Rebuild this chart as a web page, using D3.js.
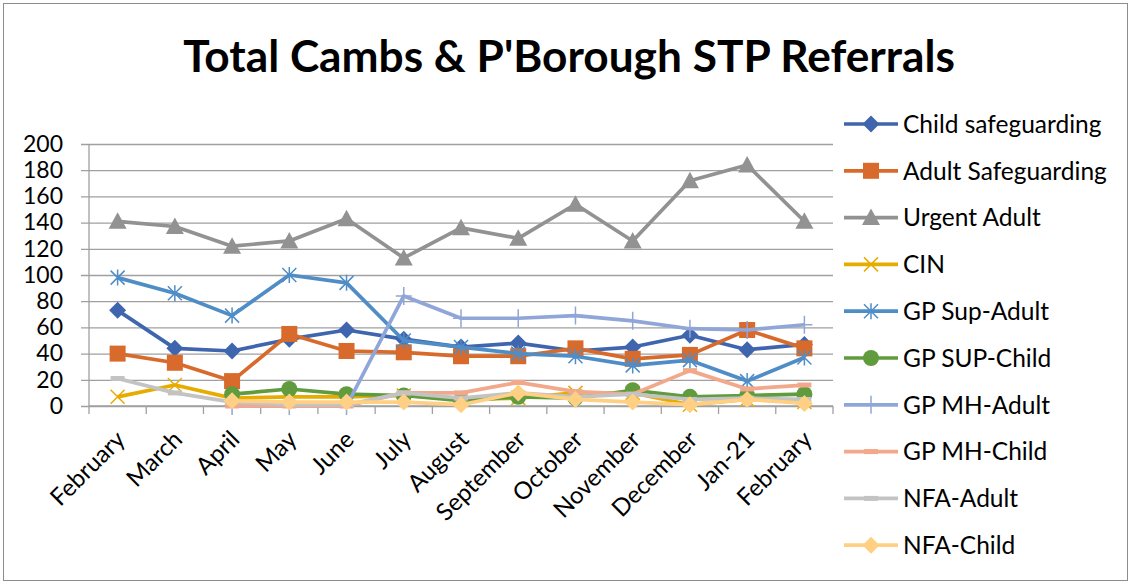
<!DOCTYPE html>
<html>
<head>
<meta charset="utf-8">
<script src="https://cdn.jsdelivr.net/npm/d3@7"></script>
<style>
  body { margin: 0; background: #fff; }
  text { font-family: Lato, "Open Sans", sans-serif; fill: #000; }
</style>
</head>
<body>
<svg id="chart" width="1131" height="584"></svg>
<script>
// data
var months = ["February", "March", "April", "May", "June", "July", "August",
  "September", "October", "November", "December", "Jan-21", "February"];
var childSafeguarding = [73, 44, 42, 51, 58, 51, 45, 48, 42, 45, 54, 43, 47];
var adultSafeguarding = [40, 33, 19, 55, 42, 41, 38, 38, 44, 36, 39, 58, 44];
var urgentAdult = [141, 137, 122, 126, 143, 113, 136, 128, 154, 126, 172, 184, 141];
var cin = [7, 16, 6, 7, 7, 8, 5, 6, 10, 10, 1, 5, 3];
var gpSupAdult = [98, 86, 69, 100, 94, 50, 45, 40, 38, 31, 35, 19, 37];
var gpSupChild = [null, null, 9, 13, 9, 8, 4, 7, 6, 12, 7, 8, 9];
var gpMhAdult = [null, null, 0, 0, 0, 84, 67, 67, 69, 65, 59, 58, 62];
var gpMhChild = [null, null, 0, 0, 0, 10, 10, 18, 11, 9, 27, 13, 16];
var nfaAdult = [21, 10, 3, 1, 1, 10, 6, 10, 7, 9, 5, 6, 5];
var nfaChild = [null, null, 4, 3, 3, 3, 1, 10, 5, 3, 1, 5, 2];
var yTicks = [0, 20, 40, 60, 80, 100, 120, 140, 160, 180, 200];

var series = [
  {name: "Child safeguarding", values: childSafeguarding, color: "#3F65AF", marker: "diamond"},
  {name: "Adult Safeguarding", values: adultSafeguarding, color: "#D86B2C", marker: "square"},
  {name: "Urgent Adult", values: urgentAdult, color: "#929292", marker: "triangle"},
  {name: "CIN", values: cin, color: "#E6AC00", marker: "x"},
  {name: "GP Sup-Adult", values: gpSupAdult, color: "#4F8DC6", marker: "star"},
  {name: "GP SUP-Child", values: gpSupChild, color: "#609B3E", marker: "circle"},
  {name: "GP MH-Adult", values: gpMhAdult, color: "#90A6D8", marker: "plus"},
  {name: "GP MH-Child", values: gpMhChild, color: "#F2A88A", marker: "dash"},
  {name: "NFA-Adult", values: nfaAdult, color: "#C3C3C3", marker: "dash"},
  {name: "NFA-Child", values: nfaChild, color: "#FFD083", marker: "diamond"}
];

var svg = d3.select("#chart");
var margin = {top: 144, left: 89, right: 298, bottom: 178};
var width = 1131, height = 584;
var axisColor = "#a0a0a0";

svg.append("rect")
  .attr("x", 3.5).attr("y", 3.5)
  .attr("width", width - 7).attr("height", height - 7)
  .attr("fill", "#fff").attr("stroke", "#8c8c8c").attr("stroke-width", 1);

var x = d3.scaleBand()
  .domain(d3.range(months.length))
  .range([margin.left, width - margin.right]);

var y = d3.scaleLinear()
  .domain([0, 200])
  .range([height - margin.bottom, margin.top]);

var plotW = width - margin.right - margin.left;

// gridlines (with small outside ticks)
svg.append("g")
  .attr("transform", "translate(" + margin.left + ",0)")
  .call(d3.axisLeft(y).tickValues(yTicks).tickSize(0).tickFormat(""))
  .call(g => g.select(".domain").remove())
  .call(g => g.selectAll("line").attr("x1", -8).attr("x2", plotW)
    .attr("stroke", axisColor).attr("stroke-width", 1.3));

// y axis line
svg.append("line")
  .attr("x1", margin.left).attr("x2", margin.left)
  .attr("y1", y(200)).attr("y2", y(0))
  .attr("stroke", axisColor).attr("stroke-width", 1.3);

// y labels
svg.append("g")
  .attr("transform", "translate(" + margin.left + ",0)")
  .call(d3.axisLeft(y).tickValues(yTicks).tickSize(0).tickPadding(26))
  .call(g => g.select(".domain").remove())
  .call(g => g.selectAll("text").attr("font-size", 23).style("fill", "#000"));

// x axis with ticks at the band edges
var x0 = y(0);
var xa = svg.append("g");
xa.append("line")
  .attr("x1", margin.left).attr("x2", width - margin.right)
  .attr("y1", x0).attr("y2", x0)
  .attr("stroke", axisColor).attr("stroke-width", 1.3);
xa.selectAll(".tk")
  .data(d3.range(months.length + 1))
  .enter().append("line")
  .attr("x1", d => margin.left + d * x.bandwidth())
  .attr("x2", d => margin.left + d * x.bandwidth())
  .attr("y1", x0).attr("y2", x0 + 8)
  .attr("stroke", axisColor).attr("stroke-width", 1.3);
xa.selectAll(".lbl")
  .data(months)
  .enter().append("text")
  .attr("text-anchor", "end")
  .attr("font-size", 24)
  .attr("transform", (d, i) => "translate(" + (x(i) + x.bandwidth() / 2 + 9) + "," + (x0 + 35) + ") rotate(-45)")
  .text(d => d);

var cx = i => x(i) + x.bandwidth() / 2;

function drawMarker(g, type, color) {
  if (type == "diamond") {
    g.append("path").attr("d", "M0,-8.5L8.5,0L0,8.5L-8.5,0Z").attr("fill", color);
  } else if (type == "square") {
    g.append("rect").attr("x", -8).attr("y", -8).attr("width", 16).attr("height", 16).attr("fill", color);
  } else if (type == "triangle") {
    g.append("path").attr("d", "M0,-9L9,7.5L-9,7.5Z").attr("fill", color);
  } else if (type == "circle") {
    g.append("circle").attr("r", 8).attr("fill", color);
  } else if (type == "x") {
    g.append("path").attr("d", "M-7,-7L7,7M-7,7L7,-7").attr("stroke", color).attr("stroke-width", 1.5);
  } else if (type == "star") {
    g.append("path").attr("d", "M-7,-7L7,7M-7,7L7,-7M0,-8L0,8").attr("stroke", color).attr("stroke-width", 1.5);
  } else if (type == "plus") {
    g.append("path").attr("d", "M0,-9L0,9M-8,0L8,0").attr("stroke", color).attr("stroke-width", 1.5);
  } else if (type == "dash") {
    g.append("path").attr("d", "M-7,0L7,0").attr("stroke", color).attr("stroke-width", 5);
  }
}

var line = d3.line()
  .defined(d => d != null)
  .x((d, i) => cx(i))
  .y(d => y(d));

series.forEach(function(s) {
  var g = svg.append("g");
  g.append("path")
    .datum(s.values)
    .attr("fill", "none")
    .attr("stroke", s.color)
    .attr("stroke-width", 3.7)
    .attr("stroke-linejoin", "round")
    .attr("d", line);
  s.values.forEach(function(v, i) {
    if (v == null) return;
    var m = g.append("g").attr("transform", "translate(" + cx(i) + "," + y(v) + ")");
    drawMarker(m, s.marker, s.color);
  });
});

// legend
var legend = svg.append("g");
series.forEach(function(s, i) {
  var ly = 124 + i * 46.8;
  var row = legend.append("g").attr("transform", "translate(871," + ly + ")");
  row.append("line").attr("x1", -27).attr("x2", 27).attr("stroke", s.color).attr("stroke-width", 3.7);
  drawMarker(row, s.marker, s.color);
  row.append("text").attr("x", 32).attr("dy", "0.36em").attr("font-size", 24.5).text(s.name);
});

// title
var title = svg.append("text")
  .attr("x", 569).attr("y", 72)
  .attr("text-anchor", "middle")
  .attr("font-weight", "bold")
  .attr("font-size", 40)
  .text("Total Cambs & P'Borough STP Referrals");
var tw = title.node().getComputedTextLength();
title.attr("font-size", 40 * 772 / tw);
</script>
</body>
</html>
